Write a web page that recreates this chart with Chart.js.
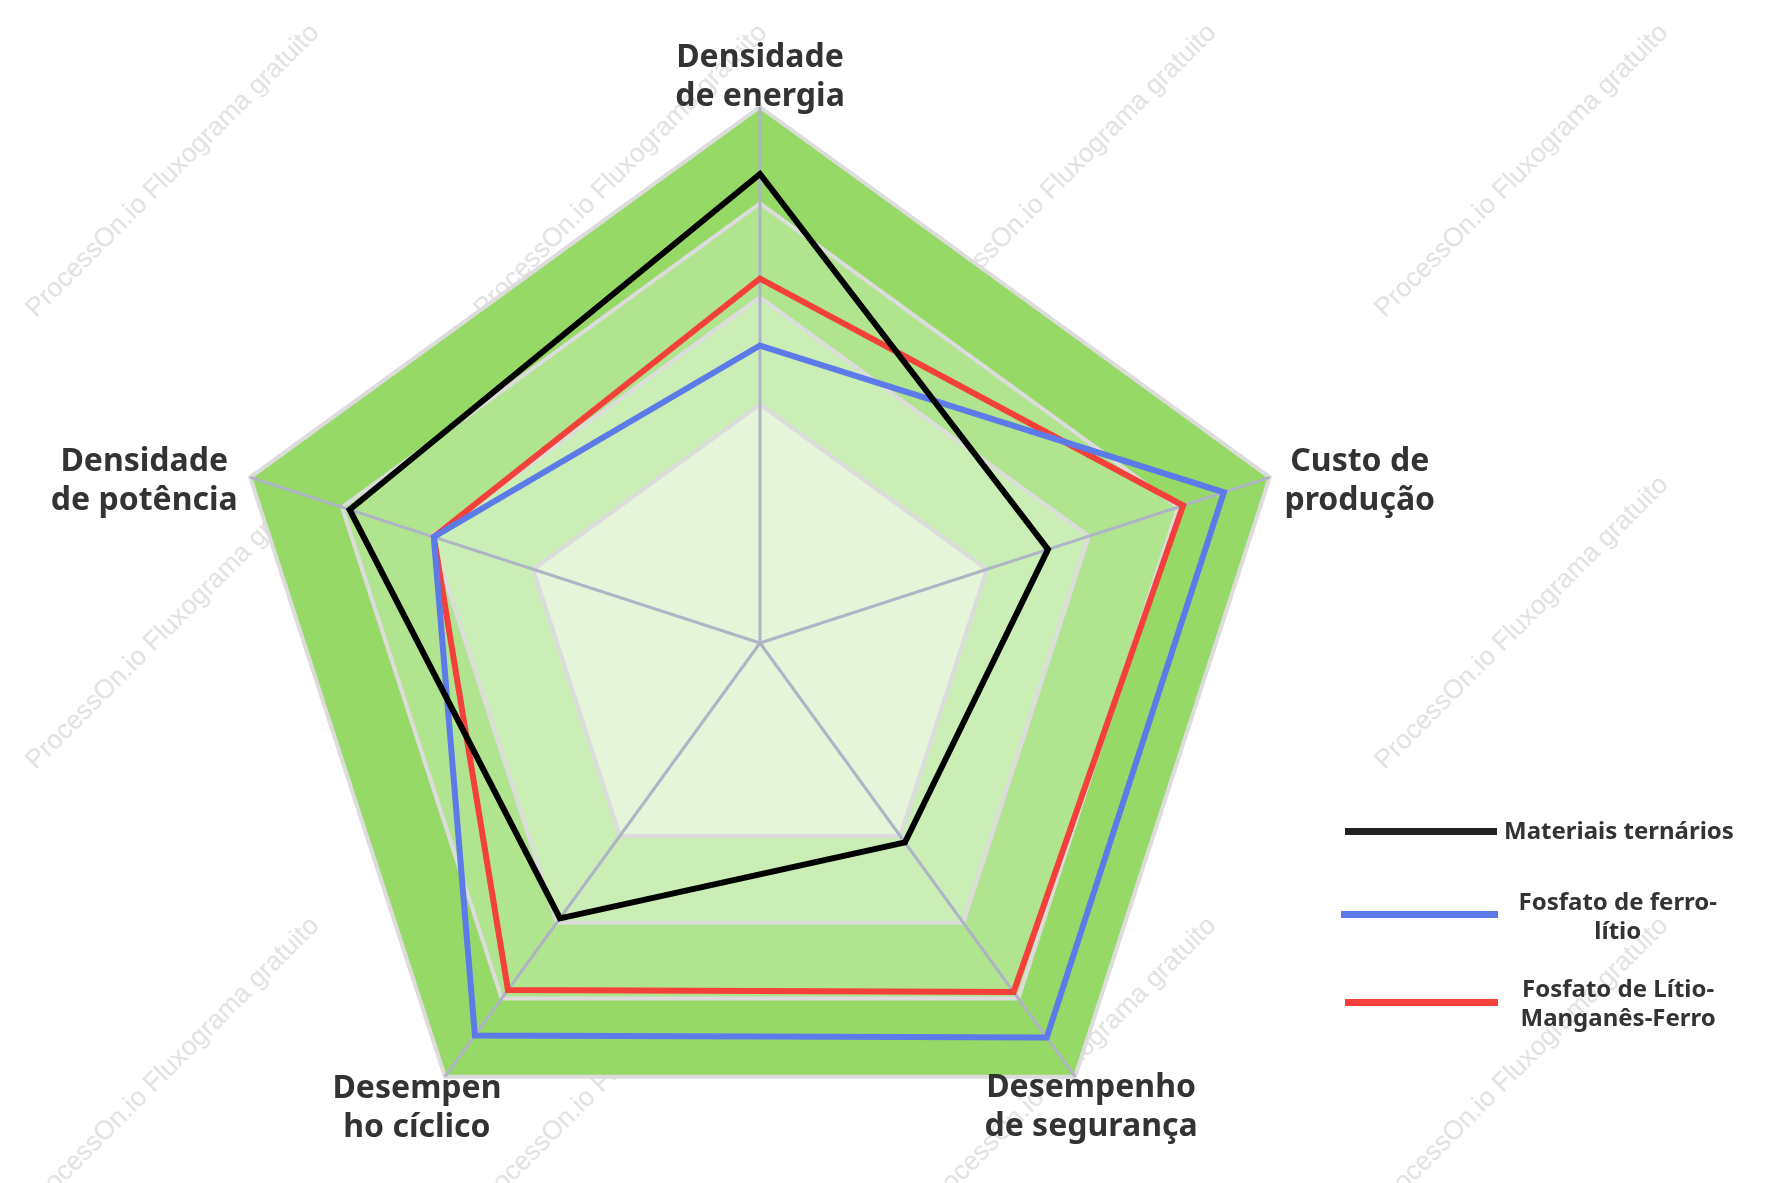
<!DOCTYPE html>
<html>
<head>
<meta charset="utf-8">
<script src="https://cdn.jsdelivr.net/npm/chart.js@4.4.1/dist/chart.umd.min.js"></script>
<style>
  html, body { margin: 0; padding: 0; background: #fff; }
  #wrap { position: relative; width: 1774px; height: 1183px; overflow: hidden; }
  #grafico { position: absolute; left: 0; top: 0; z-index: 2; }
  .marca {
    position: absolute; z-index: 1; white-space: nowrap;
    font: 26.5px "Liberation Sans", Arial, sans-serif; color: #e2e2e2;
    transform: translate(-50%, -50%) rotate(-45deg);
  }
  #legenda { position: absolute; z-index: 3; left: 0; top: 0; }
  .leg-linha { position: absolute; height: 7px; }
  .leg-texto {
    position: absolute; font: bold 24px "Noto Sans", sans-serif; color: #333;
    line-height: 29px; white-space: nowrap;
  }
</style>
</head>
<body>
<div id="wrap">
  <span class="marca" style="left:172px;top:170px">ProcessOn.io Fluxograma gratuito</span>
  <span class="marca" style="left:620px;top:170px">ProcessOn.io Fluxograma gratuito</span>
  <span class="marca" style="left:1069px;top:170px">ProcessOn.io Fluxograma gratuito</span>
  <span class="marca" style="left:1521px;top:170px">ProcessOn.io Fluxograma gratuito</span>
  <span class="marca" style="left:172px;top:622px">ProcessOn.io Fluxograma gratuito</span>
  <span class="marca" style="left:1521px;top:622px">ProcessOn.io Fluxograma gratuito</span>
  <span class="marca" style="left:172px;top:1063px">ProcessOn.io Fluxograma gratuito</span>
  <span class="marca" style="left:620px;top:1063px">ProcessOn.io Fluxograma gratuito</span>
  <span class="marca" style="left:1069px;top:1063px">ProcessOn.io Fluxograma gratuito</span>
  <span class="marca" style="left:1521px;top:1063px">ProcessOn.io Fluxograma gratuito</span>
  <canvas id="grafico" width="1774" height="1183"></canvas>
  <div id="legenda"></div>
</div>
<script>
// --- dados (escala 0-100) ---
const eixos = [
  ["Densidade", "de energia"],
  ["Custo de", "produção"],
  ["Desempenho", "de segurança"],
  ["Desempen", "ho cíclico"],
  ["Densidade", "de potência"],
];
const ternarios   = [87.5, 56.5, 46, 63.5, 80.5];
const ferroLitio  = [55.5, 91, 91, 90.5, 64];
const litioMnFe   = [68, 83, 80.5, 80, 64];

const nomesSeries = ["Materiais ternários", "Fosfato de ferro-lítio", "Fosfato de Lítio-Manganês-Ferro"];
const coresSeries = ["#000000", "#5c7ae8", "#f4403a"];

// anéis da grade e cor de cada faixa (de dentro para fora)
const niveisAnel = [0, 44.5, 64.5, 82, 100];
const coresFaixa = ["#e4f5da", "#cbeeb6", "#b1e48f", "#97d967"];

// faixas verdes por baixo da grade
const faixasPlugin = {
  id: "faixas",
  beforeDraw(chart) {
    const s = chart.scales.r;
    const ctx = chart.ctx;
    const n = eixos.length;
    for (let k = coresFaixa.length - 1; k >= 0; k--) {
      const v = niveisAnel[k + 1];
      ctx.beginPath();
      for (let i = 0; i < n; i++) {
        const p = s.getPointPositionForValue(i, v);
        if (i === 0) ctx.moveTo(p.x, p.y); else ctx.lineTo(p.x, p.y);
      }
      ctx.closePath();
      ctx.fillStyle = coresFaixa[k];
      ctx.fill();
    }
  }
};

// rótulos dos eixos (duas linhas, centralizados)
const deslocRotulo = [[0, -40], [90, -6], [16, 20], [-28, 21], [-106, -6]];
const rotulosPlugin = {
  id: "rotulos",
  afterDraw(chart) {
    const s = chart.scales.r;
    const ctx = chart.ctx;
    ctx.save();
    ctx.font = 'bold 32px "Noto Sans", sans-serif';
    ctx.fillStyle = "#333";
    ctx.textAlign = "center";
    ctx.textBaseline = "alphabetic";
    eixos.forEach((linhas, i) => {
      const p = s.getPointPositionForValue(i, 100);
      const [dx, dy] = deslocRotulo[i];
      linhas.forEach((t, j) => ctx.fillText(t, p.x + dx, p.y + dy + j * 39));
    });
    ctx.restore();
  }
};

const series = [ternarios, ferroLitio, litioMnFe];

new Chart(document.getElementById("grafico"), {
  type: "radar",
  data: {
    labels: eixos,
    datasets: series.map((d, i) => ({
      label: nomesSeries[i],
      data: d,
      borderColor: coresSeries[i],
      backgroundColor: "transparent",
      borderWidth: 6,
      pointRadius: 0,
      fill: false,
      tension: 0,
      borderJoinStyle: "miter",
    })),
  },
  options: {
    responsive: false,
    animation: false,
    layout: { padding: { left: 224, right: 478, top: 107, bottom: 4 } },
    plugins: { legend: { display: false }, tooltip: { enabled: false } },
    scales: {
      r: {
        min: 0,
        max: 100,
        afterBuildTicks: sc => { sc.ticks = niveisAnel.map(v => ({ value: v })); },
        ticks: { display: false },
        pointLabels: { display: false },
        grid: { color: "#dcdcdc", lineWidth: 4 },
        angleLines: { color: "#aeb4c6", lineWidth: 3 },
      }
    }
  },
  plugins: [faixasPlugin, rotulosPlugin],
});

// legenda à direita
const legenda = document.getElementById("legenda");
const legLinhas = [
  { x: 1345, w: 152, y: 831 },
  { x: 1341, w: 157, y: 914 },
  { x: 1345, w: 153, y: 1002 },
];
const legTextos = [
  { html: "Materiais ternários", left: 1504, top: 815, align: "left" },
  { html: "Fosfato de ferro-<br>lítio", cx: 1618, top: 886, align: "center" },
  { html: "Fosfato de Lítio-<br>Manganês-Ferro", cx: 1618, top: 973, align: "center" },
];
legLinhas.forEach((l, i) => {
  const d = document.createElement("div");
  d.className = "leg-linha";
  d.style.cssText = `left:${l.x}px;top:${l.y - 3.5}px;width:${l.w}px;background:${coresSeries[i] === "#000000" ? "#222" : coresSeries[i]}`;
  legenda.appendChild(d);
  const t = legTextos[i];
  const s = document.createElement("div");
  s.className = "leg-texto";
  s.innerHTML = t.html;
  s.style.textAlign = t.align;
  s.style.top = t.top + "px";
  legenda.appendChild(s);
  if (t.align === "left") s.style.left = t.left + "px";
  else s.style.left = (t.cx - s.offsetWidth / 2) + "px";
});
</script>
</body>
</html>
